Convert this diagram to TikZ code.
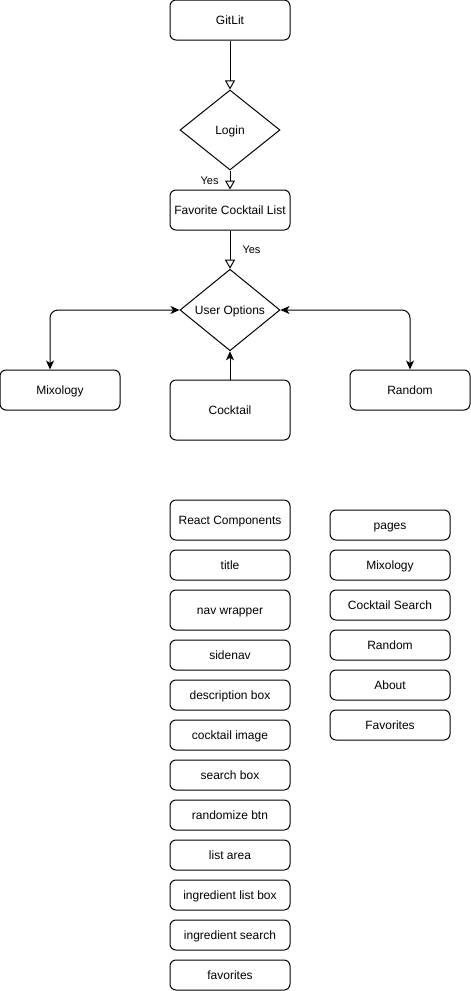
\documentclass[tikz,border=0pt]{standalone}
\usepackage{fontspec}
\setmainfont{Liberation Sans}
\usetikzlibrary{shapes.geometric}
\usetikzlibrary{arrows.meta}

\tikzset{
    box/.style={draw, line width=1pt, rounded corners=6pt, minimum width=120pt,
        minimum height=30pt, inner sep=0pt, text height=10pt, text depth=1.5pt,
        font=\fontsize{12}{14}\selectfont},
    decision/.style={draw, diamond, line width=1pt, minimum width=100pt,
        minimum height=80pt, inner sep=0pt, text height=10pt, text depth=1.5pt,
        font=\fontsize{12}{14}\selectfont},
    flow/.style={line width=1pt, -{Triangle[open,length=9pt,width=10pt]}},
    link/.style={line width=1pt, rounded corners=8pt,
        {Stealth[length=9pt,width=8pt,inset=2.5pt]}-{Stealth[length=9pt,width=8pt,inset=2.5pt]}},
    tag/.style={font=\fontsize{11}{13}\selectfont, inner sep=0pt,
        text height=9pt, text depth=1pt}
}

\begin{document}
\begin{tikzpicture}[x=1pt, y=-1pt]
    \useasboundingbox (0,0) rectangle (471,991);

    % flow chart
    \node[box, minimum height=40pt] (gitlit) at (230,20) {GitLit};
    \node[decision] (login) at (230,130) {Login};
    \node[box, minimum height=40pt] (favlist) at (230,210) {Favorite Cocktail List};
    \node[decision] (useropt) at (230,310) {User Options};
    \node[box, minimum height=40pt] (mixology) at (60,390) {Mixology};
    \node[box, minimum height=60pt] (cocktail) at (230,410) {Cocktail};
    \node[box, minimum height=40pt] (random) at (410,390) {Random};

    \draw[flow] (gitlit) -- (login);
    \draw[flow] (login) -- node[tag, left=11pt, pos=0.5] {Yes} (favlist);
    \draw[flow] (favlist) -- node[tag, right=12pt, pos=0.5] {Yes} (useropt);
    \draw[link] (useropt.west) -| ([xshift=-10pt]mixology.north);
    \draw[link] (useropt.east) -| (random.north);
    \draw[line width=1pt, -{Stealth[length=9pt,width=8pt,inset=2.5pt]}] (cocktail) -- (useropt);

    % components
    \node[box, minimum height=40pt] (react) at (230,520) {React Components};
    \node[box] (title) at (230,565) {title};
    \node[box, minimum height=40pt] (navwrap) at (230,610) {nav wrapper};
    \node[box] (sidenav) at (230,655) {sidenav};
    \node[box] (descbox) at (230,695) {description box};
    \node[box] (cimage) at (230,735) {cocktail image};
    \node[box] (searchbox) at (230,775) {search box};
    \node[box] (randbtn) at (230,815) {randomize btn};
    \node[box] (listarea) at (230,855) {list area};
    \node[box] (inglist) at (230,895) {ingredient list box};
    \node[box] (ingsearch) at (230,935) {ingredient search};
    \node[box] (favs) at (230,975) {favorites};

    % pages
    \node[box] (pages) at (390,525) {pages};
    \node[box] (pmix) at (390,565) {Mixology};
    \node[box] (psearch) at (390,605) {Cocktail Search};
    \node[box] (prandom) at (390,645) {Random};
    \node[box] (pabout) at (390,685) {About};
    \node[box] (pfavs) at (390,725) {Favorites};
\end{tikzpicture}
\end{document}
